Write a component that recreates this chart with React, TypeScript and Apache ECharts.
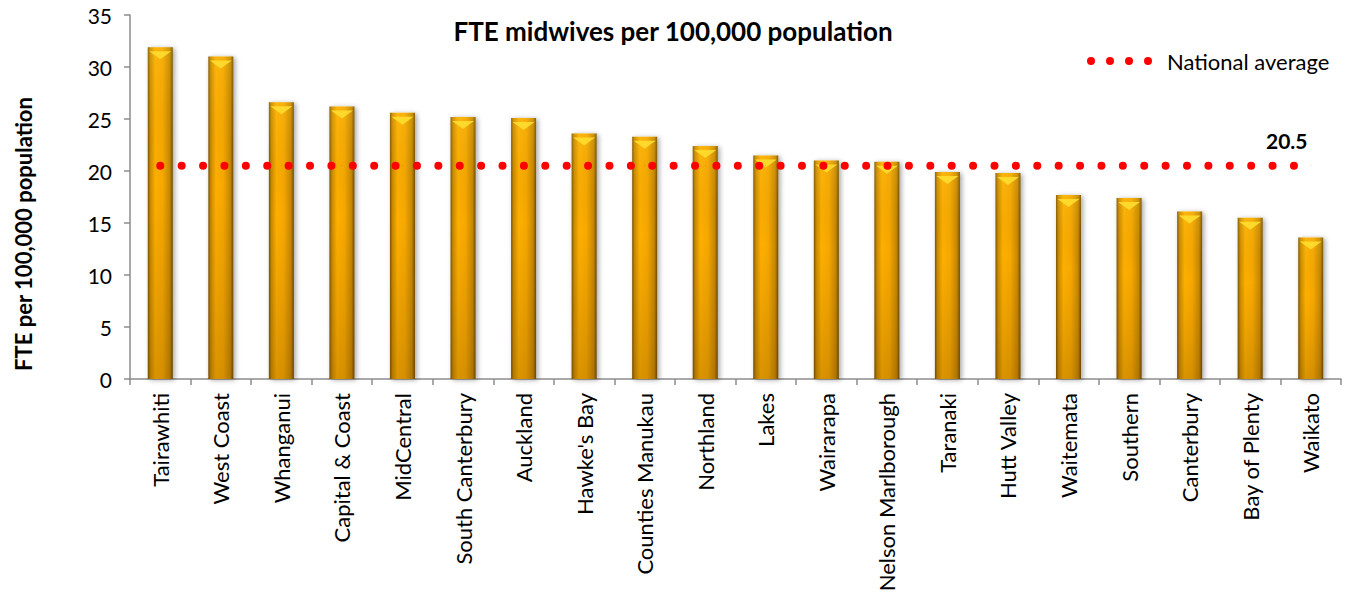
import React, { useEffect, useRef } from "react";
import * as echarts from "echarts";

const categories = [
  "Tairawhiti", "West Coast", "Whanganui", "Capital & Coast", "MidCentral",
  "South Canterbury", "Auckland", "Hawke's Bay", "Counties Manukau", "Northland",
  "Lakes", "Wairarapa", "Nelson Marlborough", "Taranaki", "Hutt Valley",
  "Waitemata", "Southern", "Canterbury", "Bay of Plenty", "Waikato",
];
const fteValues = [
  31.9, 31.0, 26.6, 26.2, 25.6, 25.2, 25.1, 23.6, 23.3, 22.4,
  21.5, 21.0, 20.9, 19.9, 19.8, 17.7, 17.4, 16.1, 15.5, 13.6,
];
const nationalAverage = 20.5;
const yTicks = { min: 0, max: 35, interval: 5 };
const titleText = "FTE midwives per 100,000 population";
const yAxisName = "FTE per 100,000 population";
const legendName = "National average";

const FONT = "Lato, 'Open Sans', sans-serif";

export default function App() {
  const ref = useRef<HTMLDivElement>(null);
  useEffect(() => {
    if (!ref.current) return;
    const chart = echarts.init(ref.current, null, { renderer: "svg" });
    const avgData = categories.map((_, i) =>
      i === categories.length - 1
        ? {
            value: nationalAverage,
            label: {
              show: true,
              position: "top",
              offset: [-24, -10],
              formatter: "{c}",
              fontFamily: FONT,
              fontWeight: "bold",
              fontSize: 21,
              color: "#000",
            },
          }
        : nationalAverage
    );
    chart.setOption({
      animation: false,
      backgroundColor: "#fff",
      textStyle: { fontFamily: FONT },
      title: {
        text: titleText,
        left: 668,
        top: 13,
        textAlign: "center",
        textStyle: { fontFamily: FONT, fontWeight: "bold", fontSize: 26, color: "#000" },
      },
      legend: {
        left: 1087,
        top: 50,
        padding: 0,
        itemWidth: 65,
        itemHeight: 8,
        data: [
          {
            name: legendName,
            icon:
              "path://M0,4a4,4 0 1,0 8,0a4,4 0 1,0 -8,0Z M19,4a4,4 0 1,0 8,0a4,4 0 1,0 -8,0Z M38,4a4,4 0 1,0 8,0a4,4 0 1,0 -8,0Z M57,4a4,4 0 1,0 8,0a4,4 0 1,0 -8,0Z",
          },
        ],
        itemStyle: { color: "#ff0000", borderWidth: 0 },
        lineStyle: { width: 0 },
        textStyle: { fontFamily: FONT, fontSize: 22, color: "#000", padding: [0, 0, 0, 10] },
      },
      grid: { left: 130, right: 9, top: 15, bottom: 221, containLabel: false },
      xAxis: {
        type: "category",
        data: categories,
        boundaryGap: true,
        axisLine: { lineStyle: { color: "#8c8c8c", width: 1.5 } },
        axisTick: { show: true, length: 6, lineStyle: { color: "#8c8c8c", width: 1.5 } },
        axisLabel: {
          rotate: 90,
          interval: 0,
          margin: 14,
          fontFamily: FONT,
          fontSize: 22,
          color: "#000",
        },
      },
      yAxis: {
        type: "value",
        min: yTicks.min,
        max: yTicks.max,
        interval: yTicks.interval,
        name: yAxisName,
        nameLocation: "middle",
        nameGap: 96,
        nameTextStyle: {
          fontFamily: FONT,
          fontWeight: "bold",
          fontSize: 22,
          color: "#000",
          padding: [0, 74, 0, 0],
        },
        splitLine: { show: false },
        axisLine: { show: true, lineStyle: { color: "#8c8c8c", width: 1.5 } },
        axisTick: { show: true, length: 6, lineStyle: { color: "#8c8c8c", width: 1.5 } },
        axisLabel: { fontFamily: FONT, fontSize: 21, color: "#000", margin: 18 },
      },
      series: [
        {
          type: "bar",
          name: "FTE",
          data: fteValues,
          barWidth: 25,
          z: 2,
          itemStyle: {
            color: new echarts.graphic.LinearGradient(0, 0, 1, 0, [
              { offset: 0, color: "#7a5300" },
              { offset: 0.1, color: "#c98a00" },
              { offset: 0.3, color: "#fdaf00" },
              { offset: 0.6, color: "#f6a800" },
              { offset: 0.88, color: "#c68700" },
              { offset: 1, color: "#6e4a00" },
            ]),
            shadowColor: "rgba(0,0,0,0.35)",
            shadowBlur: 5,
            shadowOffsetX: 2,
            shadowOffsetY: 1,
          },
        },
        {
          type: "bar",
          name: "shade",
          data: fteValues,
          barWidth: 25,
          barGap: "-100%",
          z: 3,
          silent: true,
          itemStyle: {
            color: new echarts.graphic.LinearGradient(0, 0, 0, 1, [
              { offset: 0, color: "rgba(255,220,80,0.15)" },
              { offset: 0.4, color: "rgba(120,70,0,0)" },
              { offset: 1, color: "rgba(90,50,0,0.22)" },
            ]),
          },
        },
        {
          type: "pictorialBar",
          name: "bevel",
          data: fteValues,
          symbol: "path://M0,0L24,0L12,9Z",
          symbolSize: [22, 8],
          symbolPosition: "end",
          symbolOffset: [0, "50%"],
          z: 4,
          silent: true,
          itemStyle: { color: "#ffe033", opacity: 0.85 },
        },
        {
          type: "line",
          name: legendName,
          data: avgData,
          symbol: "circle",
          symbolSize: 0.5,
          showAllSymbol: true,
          z: 5,
          itemStyle: { color: "#ff0000" },
          lineStyle: { color: "#ff0000", width: 8, type: [0.01, 21.38], cap: "round" },
        },
      ],
    });
    return () => chart.dispose();
  }, []);
  return <div ref={ref} style={{ width: 1350, height: 600, margin: -8 }} />;
}
